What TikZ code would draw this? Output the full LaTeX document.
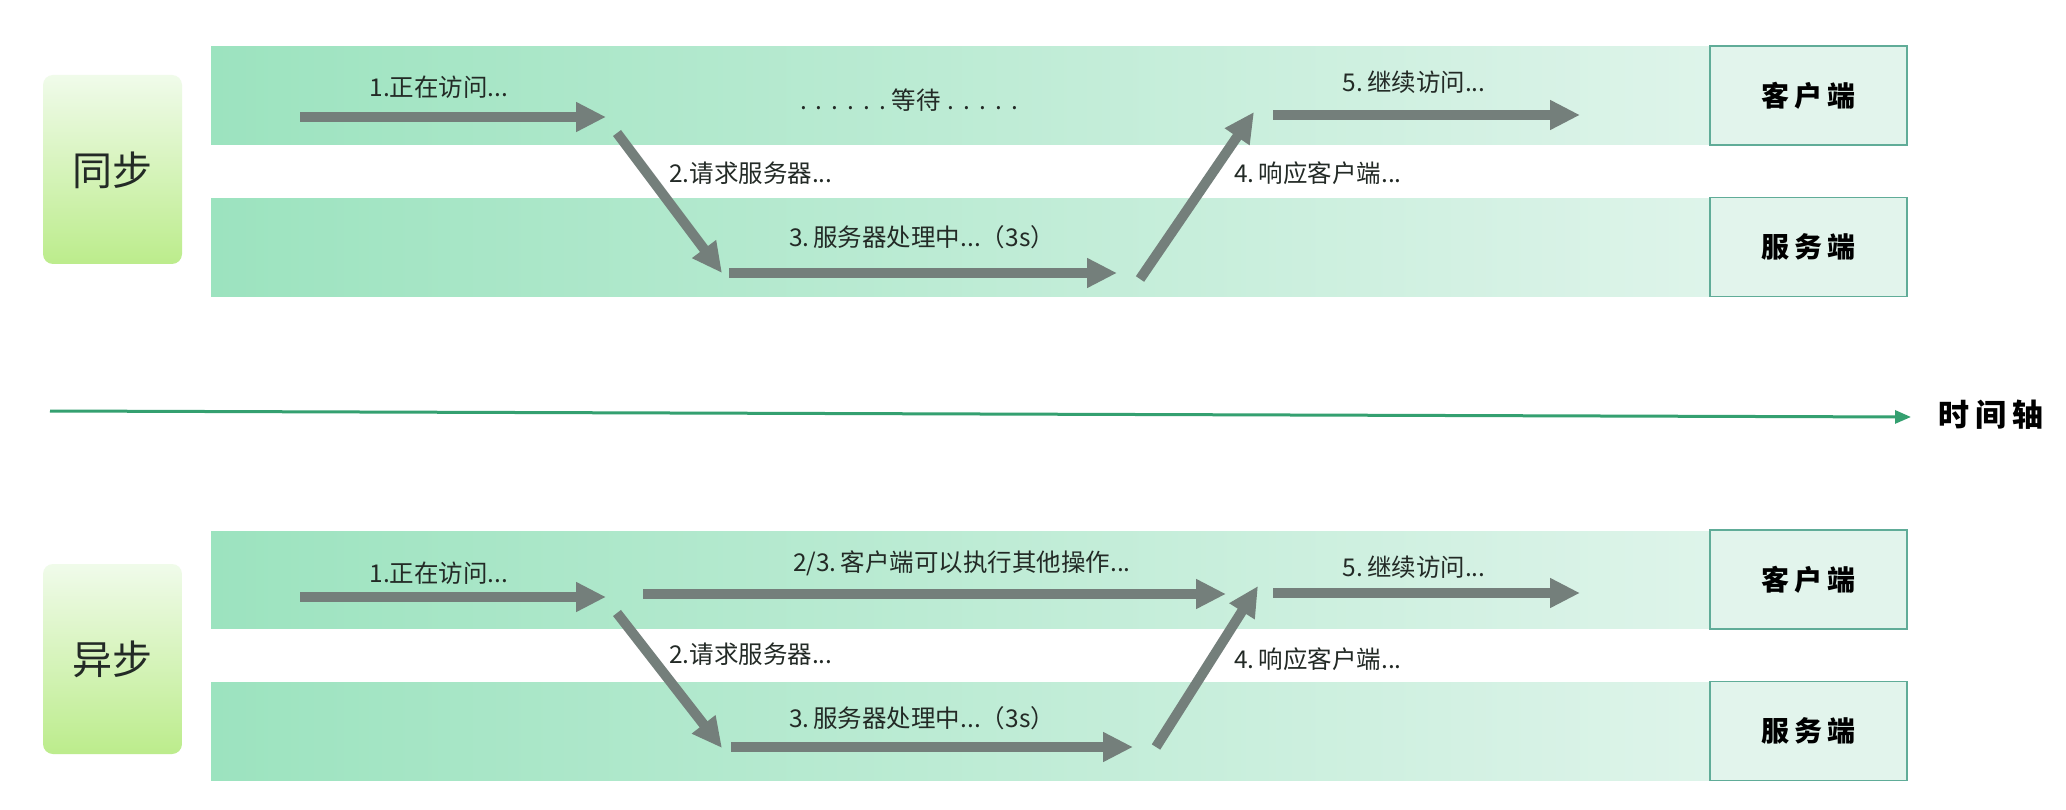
\documentclass[tikz,border=0pt]{standalone}
\usepackage{fontspec}
\newfontfamily\cjk{Noto Sans CJK SC}
\usetikzlibrary{arrows.meta}
\definecolor{bandL}{RGB}{156,227,191}
\definecolor{bandR}{RGB}{222,244,234}
\definecolor{boxfill}{RGB}{226,244,236}
\definecolor{boxline}{RGB}{96,172,152}
\definecolor{arrowgray}{RGB}{116,127,123}
\definecolor{labtop}{RGB}{240,251,234}
\definecolor{labbot}{RGB}{188,236,140}
\definecolor{axisgreen}{RGB}{52,160,112}
\definecolor{txt}{RGB}{35,42,38}
\tikzset{
  bigarrow/.style={draw=arrowgray, line width=10pt,
    -{Triangle[length=30pt,width=28pt]}},
  steptext/.style={font=\cjk\fontsize{24.5}{28}\selectfont, text=txt, inner sep=0pt},
  sidebox/.style={draw=boxline, line width=1.5pt, fill=boxfill,
    minimum width=197pt, minimum height=99pt, inner sep=0pt,
    font=\cjk\bfseries\fontsize{28}{32}\selectfont, text=black},
  modetext/.style={font=\cjk\fontsize{40}{44}\selectfont, text=txt, inner sep=0pt},
}
\begin{document}
\begin{tikzpicture}[x=1pt,y=-1pt]
\useasboundingbox (0,0) rectangle (2066,810);
\fill[white] (0,0) rectangle (2066,810);

% ---------- bands ----------
\shade[left color=bandL, right color=bandR] (211,47) rectangle (1712,145);
\shade[left color=bandL, right color=bandR] (211,199) rectangle (1712,296);
\shade[left color=bandL, right color=bandR] (211,531) rectangle (1712,628);
\shade[left color=bandL, right color=bandR] (211,682) rectangle (1712,780);

% ---------- mode labels ----------
\shade[top color=labtop, bottom color=labbot, rounded corners=10pt] (43,75) rectangle (182,264);
\node[modetext] (sync) at (112.5,170) {同步};
\shade[top color=labtop, bottom color=labbot, rounded corners=10pt] (43,564) rectangle (182,754);
\node[modetext] (async) at (112.5,659) {异步};

% ---------- side boxes ----------
\node[sidebox] (sc) at (1808.5,95.5) {客\hspace{5pt}户\hspace{5pt}端};
\node[sidebox] (ss) at (1808.5,247) {服\hspace{5pt}务\hspace{5pt}端};
\node[sidebox] (ac) at (1808.5,579.5) {客\hspace{5pt}户\hspace{5pt}端};
\node[sidebox] (as) at (1808.5,731) {服\hspace{5pt}务\hspace{5pt}端};

% ---------- time axis ----------
\coordinate (ax0) at (50,411);
\node[font=\cjk\bfseries\fontsize{31}{34}\selectfont, text=black, inner sep=0pt] (axl) at (1991,415) {时\hspace{6pt}间\hspace{6pt}轴};
\coordinate (ax1) at (1911,417);
\draw[axisgreen, line width=3pt, -{Triangle[length=16pt,width=13pt]}] (ax0) -- (ax1);

% ---------- synchronous ----------
\coordinate (s1a) at (300,117);  \coordinate (s1b) at (606,117);
\coordinate (s2a) at (617,133);  \coordinate (s2b) at (722,273);
\coordinate (s3a) at (729,273);  \coordinate (s3b) at (1117,273);
\coordinate (s4a) at (1140,279); \coordinate (s4b) at (1254,112);
\coordinate (s5a) at (1273,115); \coordinate (s5b) at (1580,115);
\draw[bigarrow] (s1a) -- (s1b);
\draw[bigarrow] (s2a) -- (s2b);
\draw[bigarrow] (s3a) -- (s3b);
\draw[bigarrow] (s4a) -- (s4b);
\draw[bigarrow] (s5a) -- (s5b);
\node[steptext] (st1) at (439,87) {1.正在访问...};
\node[steptext] (stw) at (909,100) {.\hspace{9pt}.\hspace{9pt}.\hspace{9pt}.\hspace{9pt}.\hspace{9pt}.\hspace{6pt}等待\hspace{7pt}.\hspace{9pt}.\hspace{9pt}.\hspace{9pt}.\hspace{9pt}.};
\node[steptext, anchor=west] (st2) at (669,173) {2.请求服务器...};
\node[steptext] (st3) at (922,237) {3.\,服务器处理中...（3s）};
\node[steptext, anchor=west] (st4) at (1234,173) {4.\,响应客户端...};
\node[steptext] (st5) at (1414,82) {5.\,继续访问...};

% ---------- asynchronous ----------
\coordinate (a1a) at (300,597);  \coordinate (a1b) at (606,597);
\coordinate (a23a) at (643,594); \coordinate (a23b) at (1226,594);
\coordinate (a2a) at (617,613);  \coordinate (a2b) at (722,748);
\coordinate (a3a) at (731,747);  \coordinate (a3b) at (1133,747);
\coordinate (a4a) at (1156,747); \coordinate (a4b) at (1258,586);
\coordinate (a5a) at (1273,593); \coordinate (a5b) at (1580,593);
\draw[bigarrow] (a1a) -- (a1b);
\draw[bigarrow] (a23a) -- (a23b);
\draw[bigarrow] (a2a) -- (a2b);
\draw[bigarrow] (a3a) -- (a3b);
\draw[bigarrow] (a4a) -- (a4b);
\draw[bigarrow] (a5a) -- (a5b);
\node[steptext] (at1) at (439,573) {1.正在访问...};
\node[steptext] (at23) at (962,563) {2/3.\,客户端可以执行其他操作...};
\node[steptext, anchor=west] (at2) at (669,654) {2.请求服务器...};
\node[steptext] (at3) at (922,718) {3.\,服务器处理中...（3s）};
\node[steptext, anchor=west] (at4) at (1234,659) {4.\,响应客户端...};
\node[steptext] (at5) at (1414,567) {5.\,继续访问...};
\end{tikzpicture}
\end{document}
